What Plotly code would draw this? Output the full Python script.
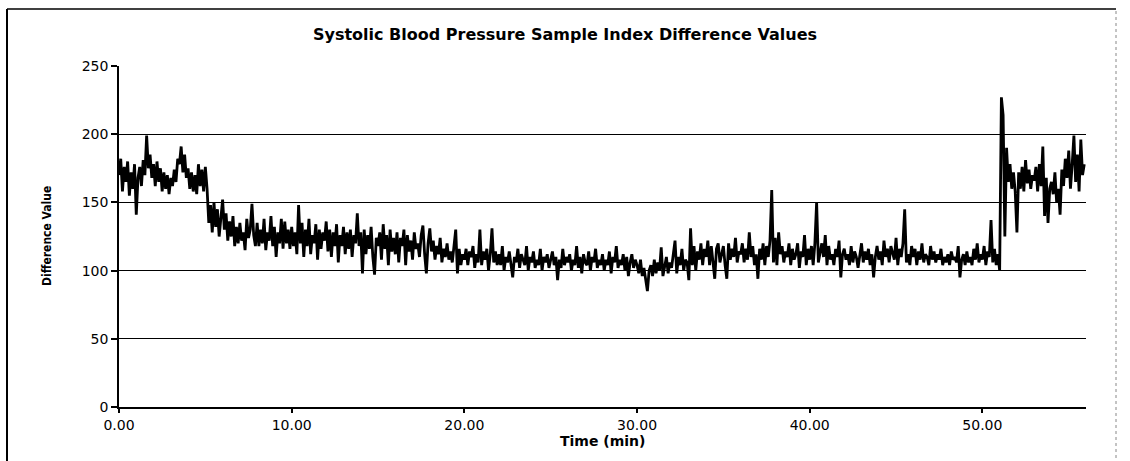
import numpy as np
import plotly.graph_objects as go

# sample spacing of the trace (min)
step = 0.1

# difference values, one row per 2 minutes
diff_values = [
    170, 182, 158, 176, 165, 180, 155, 172, 160, 178, 141, 168, 176, 162, 181, 170, 199, 175, 185, 168,
    178, 162, 180, 165, 175, 158, 172, 160, 170, 156, 168, 162, 174, 165, 182, 178, 191, 172, 185, 168,
    175, 160, 172, 158, 170, 156, 178, 162, 174, 158, 176, 160, 135, 148, 128, 150, 132, 145, 125, 140,
    152, 130, 142, 122, 136, 125, 140, 118, 132, 120, 135, 122, 128, 115, 138, 124, 130, 149, 126, 118,
    135, 118, 130, 120, 138, 115, 128, 122, 140, 118, 132, 110, 128, 120, 138, 116, 136, 120, 130, 116,
    132, 118, 128, 112, 148, 120, 135, 110, 130, 118, 138, 112, 126, 120, 134, 108, 130, 116, 128, 122,
    136, 114, 130, 110, 128, 118, 134, 106, 126, 118, 132, 112, 128, 116, 130, 110, 126, 120, 142, 118,
    128, 98, 130, 112, 126, 116, 132, 110, 97, 124, 118, 128, 108, 134, 116, 126, 104, 130, 114, 124,
    112, 128, 106, 124, 118, 130, 104, 126, 114, 122, 108, 128, 116, 120, 110, 126, 133, 112, 98, 120,
    131, 114, 122, 108, 118, 112, 124, 106, 116, 110, 120, 108, 114, 106, 118, 130, 98, 116, 104, 112,
    108, 116, 104, 114, 110, 118, 102, 112, 106, 130, 104, 114, 108, 116, 100, 112, 131, 106, 114, 104,
    112, 104, 118, 100, 110, 106, 114, 102, 95, 110, 106, 116, 102, 112, 108, 104, 118, 100, 110, 106,
    114, 102, 108, 104, 116, 100, 110, 106, 112, 102, 108, 114, 104, 110, 93, 108, 102, 116, 104, 110,
    106, 112, 100, 108, 104, 118, 102, 110, 98, 112, 106, 104, 114, 100, 110, 106, 116, 102, 108, 104,
    112, 100, 108, 104, 114, 98, 110, 106, 118, 102, 108, 104, 112, 100, 110, 96, 106, 112, 102, 108,
    104, 98, 108, 96, 102, 94, 85, 100, 104, 96, 108, 98, 106, 100, 117, 96, 104, 110, 98, 106,
    102, 112, 122, 98, 110, 104, 116, 100, 108, 106, 93, 131, 104, 118, 100, 114, 108, 120, 104, 116,
    110, 122, 104, 118, 108, 94, 116, 120, 106, 112, 118, 104, 94, 120, 108, 116, 110, 124, 106, 114,
    112, 120, 106, 116, 108, 128, 110, 118, 104, 112, 94, 116, 108, 120, 104, 118, 110, 122, 159, 106,
    124, 104, 128, 112, 118, 106, 114, 110, 120, 104, 116, 108, 112, 120, 102, 114, 110, 126, 104, 116,
    108, 118, 104, 120, 150, 106, 114, 120, 110, 126, 104, 118, 108, 112, 104, 116, 110, 122, 95, 112,
    116, 108, 112, 104, 118, 106, 114, 110, 102, 112, 120, 106, 114, 108, 116, 104, 112, 95, 110, 118,
    108, 114, 104, 122, 110, 116, 106, 118, 112, 108, 124, 104, 116, 110, 120, 145, 106, 112, 104, 118,
    110, 116, 104, 114, 108, 120, 106, 112, 110, 104, 118, 108, 114, 106, 112, 108, 116, 104, 110, 106,
    112, 104, 114, 108, 110, 106, 118, 95, 108, 112, 104, 114, 106, 110, 104, 116, 108, 120, 106, 112,
    108, 118, 104, 114, 110, 137, 106, 116, 104, 112, 100, 227, 214, 125, 190, 165, 178, 160, 172, 158,
    128, 172, 160, 176, 158, 181, 164, 174, 160, 170, 166, 176, 158, 178, 162, 191, 140, 168, 135, 160,
    165, 156, 172, 150, 160, 141, 174, 162, 182, 168, 188, 160, 178, 199, 165, 185, 158, 196, 170, 178,
]
time_min = np.arange(len(diff_values)) * step

x_ticks = [0, 10, 20, 30, 40, 50]
x_tick_text = ["0.00", "10.00", "20.00", "30.00", "40.00", "50.00"]
y_ticks = [0, 50, 100, 150, 200, 250]

tick_font = dict(family="DejaVu Sans", size=14, color="black")

# plot area in page pixels: x 119..1086, y 66..407
def px_x(x):
    return (x - 119) / 967

def px_y(y):
    return (407 - y) / 341

fig = go.Figure()
fig.add_trace(go.Scatter(
    x=time_min, y=diff_values, mode="lines",
    line=dict(color="black", width=2.8),
    showlegend=False, hoverinfo="skip",
))

fig.update_layout(
    width=1130, height=461,
    margin=dict(l=119, r=44, t=66, b=54),
    paper_bgcolor="white", plot_bgcolor="white",
    title=dict(
        text="Systolic Blood Pressure Sample Index Difference Values",
        x=0.5, xref="container", xanchor="center",
        y=1 - 34 / 461, yref="container", yanchor="middle",
        font=dict(family="DejaVu Sans", size=16, color="black", weight="bold"),
    ),
    xaxis=dict(
        range=[0, 56], tickvals=x_ticks, ticktext=x_tick_text,
        showgrid=False, zeroline=False,
        showline=True, linecolor="black", linewidth=1.5,
        ticks="outside", ticklen=4, tickcolor="black", tickwidth=1.5,
        tickfont=tick_font,
    ),
    yaxis=dict(
        range=[0, 250], tickvals=y_ticks,
        showgrid=True, gridcolor="black", gridwidth=1.2,
        zeroline=False,
        showline=True, linecolor="black", linewidth=1.5,
        ticks="outside", ticklen=6, tickcolor="black", tickwidth=1.5,
        tickfont=tick_font,
    ),
    annotations=[
        dict(text="<b>Difference Value</b>", xref="paper", yref="paper",
             x=px_x(47), y=px_y(236), xanchor="center", yanchor="middle",
             textangle=-90, showarrow=False,
             font=dict(family="DejaVu Sans Condensed, DejaVu Sans", size=12, color="black")),
        dict(text="<b>Time (min)</b>", xref="paper", yref="paper",
             x=0.5, y=px_y(441), xanchor="center", yanchor="middle",
             showarrow=False,
             font=dict(family="DejaVu Sans", size=14, color="black")),
    ],
    shapes=[
        # outer frame of the chart
        dict(type="line", xref="paper", yref="paper",
             x0=px_x(7), x1=px_x(7), y0=px_y(470), y1=px_y(9),
             line=dict(color="black", width=2)),
        dict(type="line", xref="paper", yref="paper",
             x0=px_x(7), x1=px_x(1116), y0=px_y(9), y1=px_y(9),
             line=dict(color="black", width=1.5)),
        dict(type="line", xref="paper", yref="paper",
             x0=px_x(1116), x1=px_x(1116), y0=px_y(470), y1=px_y(9),
             line=dict(color="#888888", width=1, dash="dot")),
    ],
)

fig.write_html("out.html", config={"displayModeBar": False},
               post_script="document.body.style.margin='0';")
